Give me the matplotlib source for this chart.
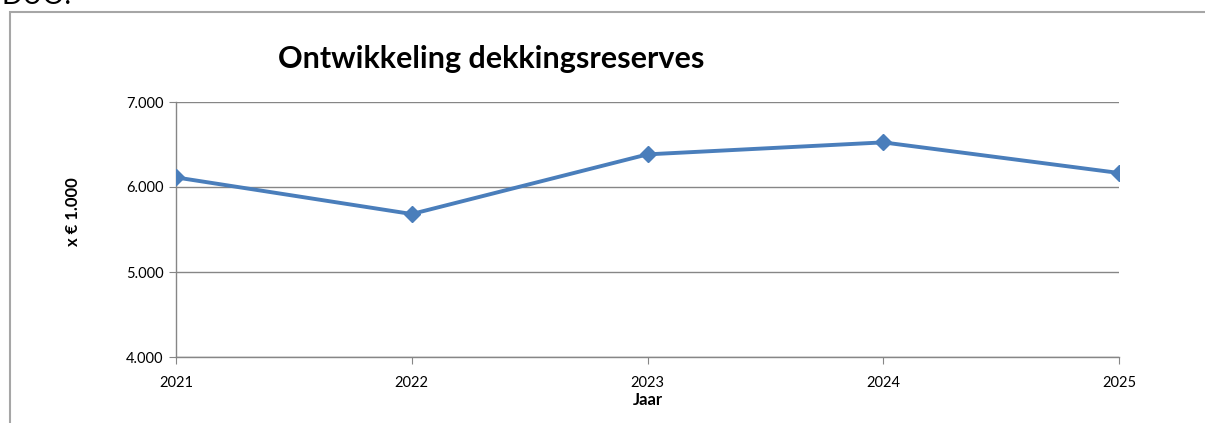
import matplotlib.pyplot as plt
from matplotlib.patches import Rectangle
from matplotlib.ticker import FuncFormatter

years = ['2021', '2022', '2023', '2024', '2025']
reserves = [6113, 5682, 6384, 6525, 6165]
yticks = [4000, 5000, 6000, 7000]

plt.rcParams['font.family'] = ['Lato', 'DejaVu Sans']

W, H = 1205, 423
fig = plt.figure(figsize=(W / 100, H / 100), dpi=100)

# chart frame, runs off the right and bottom edge
fig.patches.append(Rectangle((10 / W, -0.1), 1.2, 1 - 12 / H + 0.1,
                             transform=fig.transFigure, fill=False,
                             edgecolor='#a6a6a6', linewidth=1.5))
# clipped heading above the chart
fig.text(2 / W, 1 + 17 / H, 'DUO.', fontsize=20, va='top', ha='left')

ax = fig.add_axes([176 / W, 1 - 357 / H, (1119 - 176) / W, (357 - 102) / H])
x = list(range(len(years)))
ax.plot(x, reserves, color='#4a7ebb', linewidth=2.8, marker='D',
        markersize=8, markerfacecolor='#4a7ebb', markeredgecolor='#4a7ebb',
        zorder=3)

ax.set_xlim(0, len(years) - 1)
ax.set_ylim(4000, 7000)
ax.set_xticks(x)
ax.set_xticklabels(years)
ax.set_yticks(yticks)
ax.yaxis.set_major_formatter(FuncFormatter(lambda v, p: f'{int(v):,}'.replace(',', '.')))
ax.grid(axis='y', color='#868686', linewidth=1.0)
for s in ['top', 'right']:
    ax.spines[s].set_visible(False)
for s in ['left', 'bottom']:
    ax.spines[s].set_color('#868686')
    ax.spines[s].set_linewidth(1.0)
ax.tick_params(axis='both', color='#868686', length=5, labelsize=10.5,
               labelcolor='#000000')
ax.tick_params(axis='x', pad=9)
ax.tick_params(axis='y', pad=4)

ax.set_xlabel('Jaar', fontsize=12, fontweight='bold', labelpad=1)
ax.set_ylabel('x € 1.000', fontsize=12, fontweight='bold')
ax.yaxis.set_label_coords(-(176 - 81) / (1119 - 176), (357 - 212) / 255)
fig.text(491 / W, 1 - 59 / H, 'Ontwikkeling dekkingsreserves', fontsize=22,
         fontweight='bold', ha='center', va='center')

fig.savefig('out.png', dpi=100)
